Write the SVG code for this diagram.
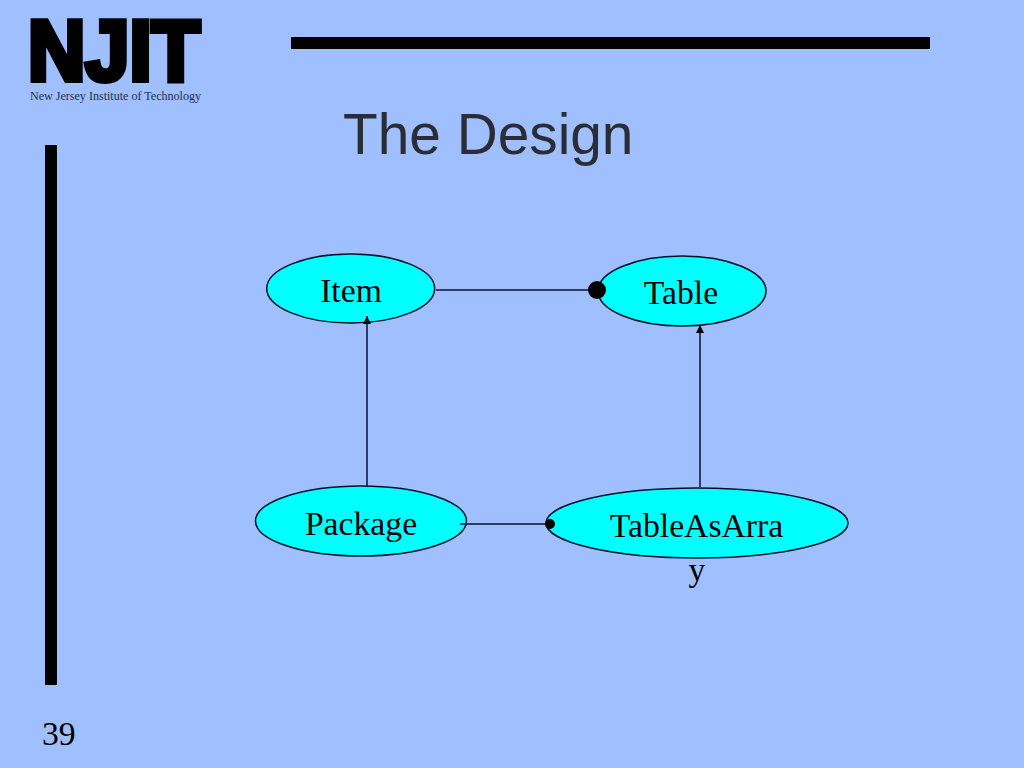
<svg xmlns="http://www.w3.org/2000/svg" width="1024" height="768" viewBox="0 0 1024 768">
<defs>
<marker id="arrow" markerUnits="userSpaceOnUse" markerWidth="10" markerHeight="10" refX="8" refY="4" orient="auto"><path d="M0 0L8 4L0 8Z" fill="#000"/></marker>
</defs>
<style>
.node{fill:#00ffff;stroke:#0a0f2a;stroke-width:1.5}
.t{font-family:"Liberation Serif",serif;font-size:33.7px;fill:#000;text-anchor:middle}
.c{fill:none;stroke:#0a1030;stroke-width:1.5}
.bar{fill:#000}
</style>
<rect width="1024" height="768" fill="#a0bfff"/>
<rect class="bar" x="291" y="37" width="639" height="12"/>
<rect class="bar" x="45" y="145" width="12" height="540"/>
<text id="logo" x="28" y="80" font-family="Liberation Sans,sans-serif" font-weight="700" font-size="86" textLength="172" lengthAdjust="spacingAndGlyphs" stroke="#000" stroke-width="6" fill="#000">NJIT</text>
<text x="30" y="100" font-family="Liberation Serif,serif" font-size="12" textLength="171" lengthAdjust="spacingAndGlyphs" fill="#24304f">New Jersey Institute of Technology</text>
<text x="343" y="154" font-family="Liberation Sans,sans-serif" font-size="56.8" fill="#2a2d35">The Design</text>
<text x="42" y="745" font-family="Liberation Serif,serif" font-size="33.7" fill="#000">39</text>
<g id="item"><ellipse class="node" cx="350.7" cy="288.5" rx="84" ry="34.5"/><text class="t" x="351" y="302">Item</text></g>
<g id="table"><ellipse class="node" cx="682" cy="291" rx="84" ry="35"/><text class="t" x="681" y="304">Table</text></g>
<g id="package"><ellipse class="node" cx="361" cy="521" rx="105.5" ry="35"/><text class="t" x="361" y="535">Package</text></g>
<g id="tableasarray"><ellipse class="node" cx="697" cy="523" rx="151" ry="35"/><text class="t" x="696.5" y="537">TableAsArra</text><text class="t" x="697" y="581">y</text></g>
<g id="connectors">
<line class="c" x1="436" y1="290" x2="598" y2="290"/>
<circle cx="597" cy="290" r="9" fill="#000"/>
<line class="c" x1="460" y1="524" x2="548" y2="524"/>
<circle cx="550" cy="524" r="5" fill="#000"/>
<line class="c" x1="367" y1="486" x2="367" y2="316" marker-end="url(#arrow)"/>
<line class="c" x1="700" y1="487" x2="700" y2="325" marker-end="url(#arrow)"/>
</g>
</svg>
